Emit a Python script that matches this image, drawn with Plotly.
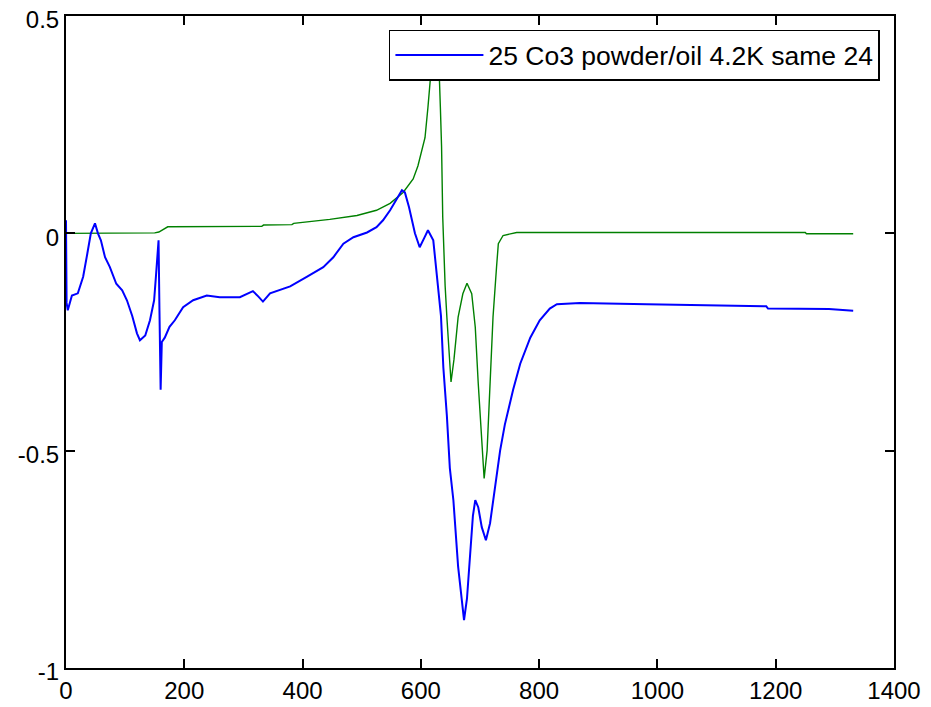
import plotly.graph_objects as go

# Blue trace: "25 Co3 powder/oil 4.2K same 24"
blue_x = [0, 1, 3, 10, 20, 29, 36, 42, 49, 54, 59, 66, 74, 85, 95, 103, 112, 120, 125, 134,
          142, 149, 152, 155, 156.5, 158, 160, 162, 167, 175, 184, 198, 215, 238, 260, 294,
          316, 325, 333, 345, 379, 407, 435, 452, 469, 486, 509, 525, 536, 548, 559, 568,
          573, 580, 590, 598, 606, 612, 621, 629, 634, 638, 644, 649, 655, 663, 669, 673,
          678, 683, 688, 692, 697, 703, 710, 717, 725, 734, 742, 756, 768, 785, 801, 818,
          830, 869, 982, 1140, 1184, 1187, 1290, 1331]
blue_y = [0.03, -0.16, -0.177, -0.143, -0.138, -0.10, -0.047, 0.0, 0.023, 0.0, -0.016, -0.055,
          -0.077, -0.116, -0.131, -0.154, -0.19, -0.23, -0.246, -0.235, -0.2, -0.154, -0.1,
          -0.03, -0.016, -0.177, -0.36, -0.25, -0.24, -0.215, -0.2, -0.17, -0.154, -0.143,
          -0.147, -0.147, -0.133, -0.145, -0.157, -0.138, -0.122, -0.10, -0.078, -0.055,
          -0.024, -0.009, 0.002, 0.014, 0.03, 0.053, 0.08, 0.099, 0.094, 0.06, 0.0, -0.032,
          -0.01, 0.007, -0.016, -0.115, -0.19, -0.308, -0.42, -0.54, -0.614, -0.767, -0.84,
          -0.89, -0.84, -0.75, -0.65, -0.614, -0.63, -0.676, -0.706, -0.667, -0.59, -0.5,
          -0.44, -0.36, -0.30, -0.24, -0.20, -0.173, -0.163, -0.16, -0.163, -0.167, -0.168,
          -0.173, -0.174, -0.178]

# Green trace (no legend entry)
green_x = [0, 150, 157, 172, 331, 334, 382, 385, 446, 492, 525, 548, 570, 587, 595, 601, 607,
           612, 617, 622, 626, 631, 633, 635, 637, 639, 641, 644, 648, 651, 656, 663, 671,
           678, 686, 692, 697, 703, 707, 712, 717, 722, 728, 731, 739, 762, 1250, 1252, 1331]
green_y = [0.0, 0.001, 0.003, 0.015, 0.016, 0.019, 0.02, 0.023, 0.032, 0.041, 0.053, 0.069,
           0.094, 0.125, 0.155, 0.19, 0.22, 0.29, 0.37, 0.45, 0.45, 0.37, 0.29, 0.2, 0.037,
           -0.062, -0.12, -0.193, -0.29, -0.342, -0.29, -0.193, -0.139, -0.115, -0.139, -0.216,
           -0.345, -0.483, -0.564, -0.5, -0.345, -0.193, -0.077, -0.024, -0.005, 0.002, 0.002,
           -0.001, -0.001]

x_ticks = [0, 200, 400, 600, 800, 1000, 1200, 1400]
x_tick_labels = ["0", "200", "400", "600", "800", "1000", "1200", "1400"]
y_ticks = [-1, -0.5, 0, 0.5]
y_tick_labels = ["-1", "-0.5", "0", "0.5"]

fig = go.Figure()
fig.add_trace(go.Scatter(x=green_x, y=green_y, mode="lines",
                         line=dict(color="#008000", width=1.4), showlegend=False))
fig.add_trace(go.Scatter(x=blue_x, y=blue_y, mode="lines",
                         line=dict(color="#0000FF", width=2),
                         name="25 Co3 powder/oil 4.2K same 24"))

axis_common = dict(showline=True, linecolor="black", linewidth=2, mirror="ticks",
                   ticks="inside", ticklen=9, tickwidth=1.5, tickcolor="black",
                   showgrid=False, zeroline=False, automargin=False,
                   tickfont=dict(family="Liberation Sans, Arial", size=24, color="black"))

fig.update_layout(
    width=931, height=707,
    margin=dict(l=66, r=37, t=16, b=39),
    paper_bgcolor="white", plot_bgcolor="white",
    xaxis=dict(range=[0, 1400], tickmode="array", tickvals=x_ticks, ticktext=x_tick_labels,
               **axis_common),
    yaxis=dict(range=[-1, 0.5], tickmode="array", tickvals=y_ticks, ticktext=y_tick_labels,
               ticklabelshift=4, **axis_common),
    legend=dict(x=0.39, y=0.979, xanchor="left", yanchor="top",
                bgcolor="white", bordercolor="black", borderwidth=1.5,
                font=dict(family="Liberation Sans, Arial", size=26.5, color="black"),
                itemwidth=88),
)

fig.write_html("out.html", config={"displayModeBar": False},
               post_script="document.body.style.margin='0';document.body.style.overflow='hidden';")
